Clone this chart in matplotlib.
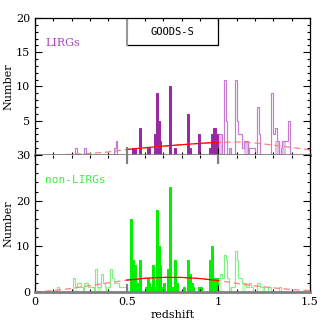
import numpy as np
import matplotlib
matplotlib.use('Agg')
import matplotlib.pyplot as plt
from matplotlib.ticker import MultipleLocator, FixedLocator

plt.rcParams['font.family'] = 'DejaVu Serif'
plt.rcParams['font.size'] = 8

bin_w = 0.01

# LIRGs (top panel): bin left edges and counts
lirg_spec_z = [0.53, 0.54, 0.57, 0.61, 0.62, 0.65, 0.66, 0.67, 0.68, 0.73, 0.76,
               0.83, 0.84, 0.89, 0.95, 0.96, 0.97, 0.98, 0.99]
lirg_spec_n = [1, 1, 4, 1, 1, 3, 9, 5, 2, 10, 1, 6, 1, 3, 1, 3, 4, 4, 3]
lirg_phot_z = [0.22, 0.27, 0.43, 0.44, 1.00, 1.01, 1.03, 1.04, 1.06, 1.09, 1.10, 1.11,
               1.12, 1.13, 1.14, 1.15, 1.17, 1.18, 1.19, 1.21, 1.22, 1.29, 1.30, 1.31,
               1.32, 1.34, 1.35, 1.36, 1.37, 1.38]
lirg_phot_n = [1, 1, 1, 2, 3, 3, 11, 5, 1, 11, 5, 3, 3, 1, 2, 2, 1, 1, 1, 7, 3, 9, 3, 4,
               2, 1, 2, 2, 2, 5]
lirg_light_z = [0.43, 1.00, 1.01, 1.06, 1.14, 1.15, 1.31, 1.32, 1.35, 1.36]
lirg_light_n = [1, 3, 3, 1, 2, 2, 2, 2, 2, 2]

# non-LIRGs (bottom panel)
nl_spec_z = [0.52, 0.53, 0.54, 0.55, 0.56, 0.57, 0.60, 0.61, 0.62, 0.63, 0.64, 0.65,
             0.66, 0.67, 0.68, 0.69, 0.70, 0.72, 0.73, 0.74, 0.75, 0.76, 0.77, 0.81,
             0.83, 0.84, 0.85, 0.86, 0.89, 0.90, 0.95, 0.96, 0.97, 0.98, 0.99]
nl_spec_n = [16, 7, 6, 2, 2, 7, 1, 3, 2, 1, 6, 1, 18, 10, 6, 1, 2, 5, 23, 1, 1, 7, 2, 1,
             7, 4, 2, 1, 1, 1, 7, 10, 3, 3, 3]
nl_phot_z = [0.12, 0.21, 0.22, 0.23, 0.24, 0.25, 0.27, 0.28, 0.29, 0.30, 0.31, 0.33,
             0.34, 0.35, 0.36, 0.37, 0.38, 0.40, 0.41, 0.42, 0.43, 0.44, 0.45, 0.46,
             0.47, 0.48, 0.49, 1.00, 1.01, 1.02, 1.03, 1.04, 1.05, 1.07, 1.08, 1.09,
             1.10, 1.11, 1.12, 1.13, 1.14, 1.15, 1.16, 1.17, 1.18, 1.21, 1.22, 1.23,
             1.24, 1.27, 1.28, 1.33]
nl_phot_n = [1, 3, 1, 2, 2, 1, 2, 2, 1, 1, 1, 5, 1, 1, 4, 2, 1, 1, 5, 3, 2, 2, 2, 1,
             1, 1, 1, 3, 4, 3, 8, 7, 3, 1, 1, 9, 7, 3, 3, 2, 2, 1, 1, 2, 1, 2, 2, 1,
             1, 1, 1, 1]
nl_light_z = [0.22, 0.34, 0.35, 0.38, 1.00, 1.01, 1.06, 1.13, 1.14, 1.24]
nl_light_n = [1, 1, 1, 1, 3, 3, 1, 2, 2, 1]

# expected distributions (red curves)
curve_z = [0.0, 0.1, 0.2, 0.3, 0.4, 0.5, 0.6, 0.7, 0.8, 0.9, 1.0, 1.1, 1.2, 1.3, 1.4, 1.5]
lirg_curve = [0.0, 0.02, 0.1, 0.22, 0.45, 0.8, 1.05, 1.3, 1.5, 1.7, 1.85, 1.9, 1.75,
              1.45, 1.1, 0.75]
nl_curve = [0.05, 0.3, 0.8, 1.4, 2.0, 2.6, 3.0, 3.2, 3.2, 2.95, 2.5, 1.9, 1.35, 0.9,
            0.55, 0.3]

edges = np.round(np.arange(0, 1.5 + bin_w / 2, bin_w), 3)


def to_full(zs, ns):
    full = np.zeros(len(edges) - 1)
    for z, n in zip(zs, ns):
        full[int(round(z / bin_w))] = n
    return full


fig = plt.figure(figsize=(3.27, 3.27), dpi=100)
ax1 = fig.add_axes([0.107, 0.526, 0.841, 0.419])
ax2 = fig.add_axes([0.107, 0.107, 0.841, 0.419])

panels = [
    (ax1, lirg_light_z, lirg_light_n, lirg_phot_z, lirg_phot_n, lirg_spec_z, lirg_spec_n,
     lirg_curve, '#e3c1e8', '#c67ad0', '#9a28a2', (0, 20)),
    (ax2, nl_light_z, nl_light_n, nl_phot_z, nl_phot_n, nl_spec_z, nl_spec_n,
     nl_curve, '#c4ffc4', '#80f080', '#00f000', (0, 30)),
]

for ax, lz, ln, pz, pn, sz, sn, curve, c_light, c_line, c_fill, ylim in panels:
    ax.stairs(to_full(lz, ln), edges, fill=True, color=c_light, lw=0)
    ax.stairs(to_full(pz, pn), edges, color=c_line, lw=0.85)
    ax.bar(sz, sn, width=bin_w, align='edge', color=c_fill, edgecolor=c_fill, lw=0.7)
    cz = np.array(curve_z)
    cv = np.array(curve)
    inside = (cz >= 0.5) & (cz <= 1.0)
    ax.plot(cz, cv, color='#ff8080', lw=0.9, ls=(0, (5, 3)))
    ax.plot(cz[inside], cv[inside], color='red', lw=0.9)
    ax.axhline(0, color='gray', lw=2, clip_on=False, zorder=5)
    ax.set_xlim(0, 1.5)
    ax.set_ylim(*ylim)
    ax.xaxis.set_major_locator(MultipleLocator(0.5))
    ax.xaxis.set_minor_locator(MultipleLocator(0.1))
    ax.tick_params(which='both', direction='in', top=True, right=True, width=0.8)
    ax.tick_params(which='major', length=5)
    ax.tick_params(which='minor', length=2.5)
    for s in ax.spines.values():
        s.set_linewidth(0.9)
    ax.set_ylabel('Number', labelpad=2)

ax1.yaxis.set_major_locator(FixedLocator([5, 10, 15, 20]))
ax1.yaxis.set_minor_locator(MultipleLocator(1))
ax1.tick_params(labelbottom=False)
ax1.spines['bottom'].set_visible(False)
ax2.yaxis.set_major_locator(MultipleLocator(10))
ax2.yaxis.set_minor_locator(MultipleLocator(2))
ax2.spines['top'].set_visible(False)
ax2.spines['bottom'].set_visible(False)
ax2.set_xticks([0, 0.5, 1, 1.5])
ax2.set_xticklabels(['0', '0.5', '1', '1.5'])
ax2.set_xlabel('redshift', labelpad=2)

# gray markers at the spectroscopic range limits
ax1.plot([0.5, 0.5], [0, 1], color='gray', lw=1.5)
ax2.plot([0.5, 0.5], [28.3, 30], color='gray', lw=1.5)
ax2.plot([1.0, 1.0], [28.3, 30], color='gray', lw=1.5)
ax2.plot([0.5, 0.5], [0, 1.6], color='gray', lw=1.5)

# field label box
ax1.plot([0.5, 1.0, 1.0], [16, 16, 20], color='black', lw=0.9)
ax1.plot([0.5, 0.5], [16, 20], color='#999999', lw=1.5)
ax1.text(0.75, 18, 'GOODS-S', ha='center', va='center', fontsize=7.5,
         family='DejaVu Sans Mono')

ax1.text(0.055, 16.4, 'LIRGs', color='#a848b8', fontsize=8, va='center')
ax2.text(0.055, 24.6, 'non-LIRGs', color='#40f040', fontsize=8, va='center',
         family='DejaVu Sans Mono')

fig.savefig('out.png', dpi=100)
